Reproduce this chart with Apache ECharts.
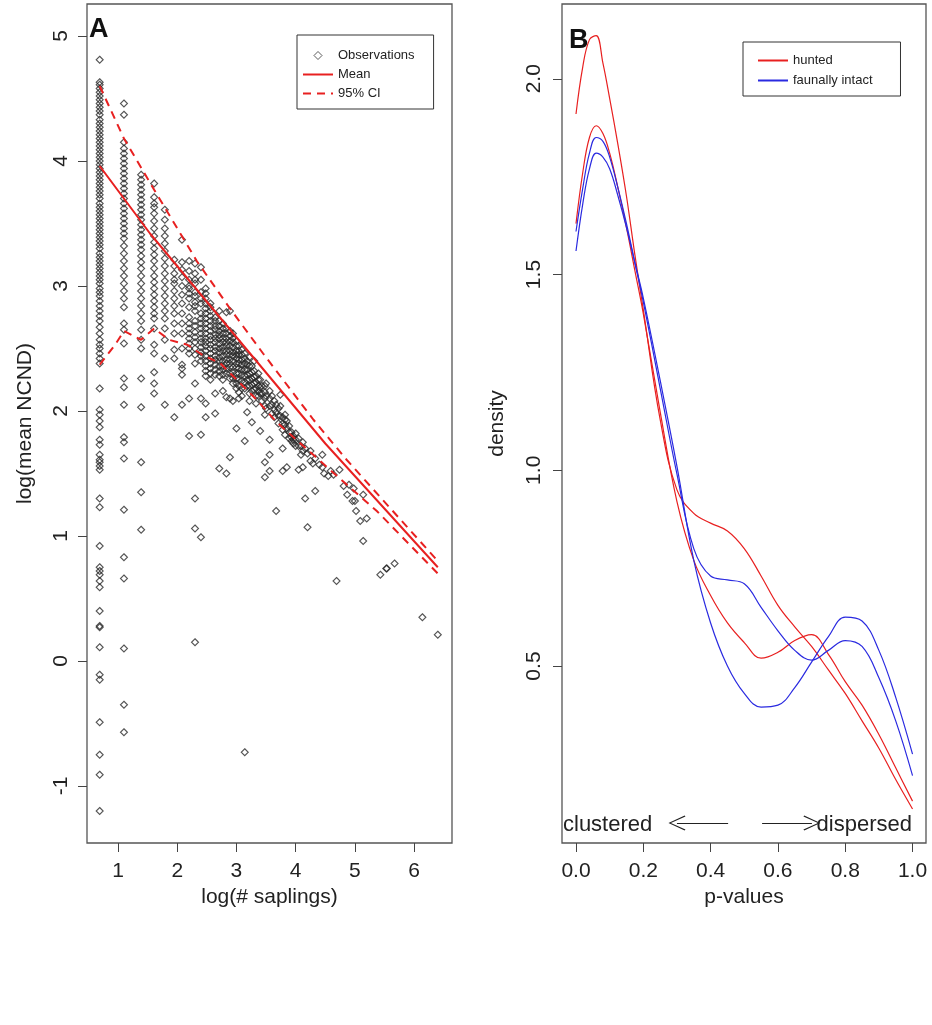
<!DOCTYPE html>
<html>
<head>
<meta charset="utf-8">
<script src="https://cdn.jsdelivr.net/npm/echarts@6/dist/echarts.min.js"></script>
<style>
  html, body { margin: 0; padding: 0; background: #fff; }
  #chart { width: 932px; height: 1025px; }
</style>
</head>
<body>
<div id="chart"></div>
<script>
// panel A: observations, one column per sapling count (x = log(# saplings))
const colX = [0.69, 1.10, 1.39, 1.61, 1.79, 1.95, 2.08, 2.20, 2.30, 2.40, 2.48, 2.56, 2.64, 2.71, 2.77, 2.83,
  2.89, 2.94, 3.00, 3.04, 3.09, 3.14, 3.18, 3.22, 3.26, 3.30, 3.33, 3.37, 3.40, 3.43, 3.48, 3.50,
  3.56, 3.60, 3.64, 3.67, 3.71, 3.74, 3.78, 3.82, 3.85, 3.89, 3.93, 3.96, 4.00, 4.05, 4.09, 4.12,
  4.16, 4.20, 4.25, 4.29, 4.33, 4.40, 4.45, 4.48, 4.55, 4.59, 4.64, 4.69, 4.74, 4.81, 4.87, 4.90,
  4.96, 4.98, 5.00, 5.02, 5.09, 5.14, 5.20, 5.43, 5.53, 5.54, 5.67, 6.14, 6.40];
const colY = [
  [4.81, 4.63, 4.61, 4.58, 4.55, 4.52, 4.49, 4.46, 4.43, 4.40, 4.37, 4.33, 4.30, 4.27, 4.24, 4.21, 4.18,
   4.15, 4.12, 4.09, 4.06, 4.03, 4.00, 3.97, 3.94, 3.91, 3.88, 3.85, 3.82, 3.79, 3.76, 3.73, 3.70, 3.66,
   3.63, 3.60, 3.57, 3.54, 3.51, 3.48, 3.45, 3.42, 3.39, 3.36, 3.33, 3.30, 3.26, 3.23, 3.20, 3.17, 3.14,
   3.11, 3.08, 3.05, 3.02, 2.98, 2.95, 2.92, 2.88, 2.84, 2.80, 2.76, 2.72, 2.67, 2.62, 2.57, 2.53, 2.50,
   2.46, 2.42, 2.38, 2.18, 2.01, 1.97, 1.92, 1.87, 1.77, 1.73, 1.65, 1.61, 1.59, 1.56, 1.53, 1.30, 1.23,
   0.92, 0.75, 0.72, 0.69, 0.64, 0.59, 0.40, 0.28, 0.27, 0.11, -0.11, -0.15, -0.49, -0.75, -0.91, -1.20],
  [4.46, 4.37, 4.15, 4.10, 4.06, 4.02, 3.98, 3.94, 3.90, 3.86, 3.82, 3.78, 3.74, 3.70, 3.66, 3.62, 3.58,
   3.54, 3.50, 3.46, 3.42, 3.38, 3.32, 3.26, 3.20, 3.14, 3.08, 3.02, 2.96, 2.90, 2.83, 2.70, 2.65, 2.54,
   2.26, 2.19, 2.05, 1.79, 1.75, 1.62, 1.21, 0.83, 0.66, 0.10, -0.35, -0.57],
  [3.89, 3.85, 3.81, 3.77, 3.73, 3.69, 3.65, 3.61, 3.57, 3.53, 3.49, 3.45, 3.41, 3.37, 3.33, 3.29, 3.24,
   3.19, 3.14, 3.08, 3.02, 2.96, 2.90, 2.84, 2.78, 2.72, 2.65, 2.57, 2.50, 2.26, 2.03, 1.59, 1.35, 1.05],
  [3.82, 3.71, 3.66, 3.63, 3.58, 3.52, 3.46, 3.40, 3.35, 3.30, 3.25, 3.20, 3.14, 3.08, 3.03, 2.98, 2.93,
   2.88, 2.83, 2.78, 2.74, 2.66, 2.53, 2.46, 2.31, 2.22, 2.14],
  [3.61, 3.53, 3.46, 3.40, 3.34, 3.28, 3.22, 3.16, 3.10, 3.04, 2.98, 2.92, 2.86, 2.80, 2.74, 2.66, 2.57,
   2.42, 2.05],
  [3.21, 3.16, 3.10, 3.05, 3.02, 2.96, 2.90, 2.84, 2.78, 2.70, 2.62, 2.49, 2.42, 1.95],
  [3.37, 3.19, 3.13, 3.07, 3.00, 2.93, 2.86, 2.78, 2.70, 2.62, 2.50, 2.37, 2.34, 2.29, 2.05],
  [3.20, 3.12, 3.05, 3.00, 2.98, 2.94, 2.90, 2.83, 2.75, 2.70, 2.66, 2.62, 2.58, 2.54, 2.50, 2.46, 2.10, 1.80],
  [3.18, 3.10, 3.05, 3.02, 2.95, 2.92, 2.87, 2.84, 2.80, 2.72, 2.68, 2.63, 2.59, 2.55, 2.50, 2.45, 2.38,
   2.22, 1.30, 1.06, 0.15],
  [3.15, 3.05, 2.95, 2.90, 2.86, 2.78, 2.74, 2.70, 2.66, 2.62, 2.58, 2.55, 2.51, 2.47, 2.44, 2.40, 2.10,
   1.81, 0.99],
  [2.98, 2.94, 2.90, 2.86, 2.82, 2.78, 2.74, 2.70, 2.66, 2.62, 2.58, 2.55, 2.52, 2.48, 2.44, 2.40, 2.36,
   2.32, 2.28, 2.06, 1.95],
  [2.86, 2.83, 2.80, 2.76, 2.72, 2.68, 2.64, 2.60, 2.57, 2.53, 2.50, 2.46, 2.42, 2.38, 2.34, 2.30, 2.25],
  [2.75, 2.72, 2.68, 2.65, 2.61, 2.58, 2.55, 2.51, 2.48, 2.44, 2.41, 2.37, 2.33, 2.29, 2.14, 1.98],
  [2.80, 2.72, 2.68, 2.64, 2.61, 2.58, 2.54, 2.50, 2.47, 2.43, 2.40, 2.36, 2.32, 2.28, 1.54],
  [2.70, 2.66, 2.62, 2.58, 2.55, 2.51, 2.48, 2.44, 2.40, 2.36, 2.33, 2.29, 2.25, 2.16],
  [2.79, 2.66, 2.62, 2.58, 2.55, 2.52, 2.48, 2.45, 2.41, 2.38, 2.34, 2.30, 2.11, 1.50],
  [2.80, 2.64, 2.60, 2.56, 2.52, 2.48, 2.45, 2.41, 2.38, 2.35, 2.30, 2.26, 2.10, 1.63],
  [2.62, 2.58, 2.55, 2.51, 2.47, 2.44, 2.40, 2.35, 2.31, 2.26, 2.22, 2.08],
  [2.56, 2.52, 2.48, 2.45, 2.42, 2.38, 2.35, 2.30, 2.26, 2.22, 2.18, 1.86],
  [2.52, 2.48, 2.45, 2.41, 2.38, 2.34, 2.30, 2.25, 2.20, 2.15, 2.10],
  [2.49, 2.45, 2.41, 2.37, 2.33, 2.29, 2.24, 2.18, 2.12],
  [2.46, 2.42, 2.38, 2.33, 2.28, 2.23, 2.18, 1.76, -0.73],
  [2.40, 2.37, 2.33, 2.29, 2.25, 2.20, 1.99],
  [2.43, 2.36, 2.30, 2.25, 2.20, 2.14, 2.08],
  [2.36, 2.31, 2.26, 2.21, 2.16, 1.91],
  [2.40, 2.32, 2.27, 2.22, 2.17],
  [2.28, 2.23, 2.18, 2.12, 2.06],
  [2.30, 2.25, 2.20, 2.16, 2.12],
  [2.25, 2.19, 2.14, 1.84],
  [2.20, 2.14, 2.08],
  [2.20, 2.15, 2.10, 2.04, 1.97, 1.59, 1.47],
  [2.22, 2.12, 2.02],
  [2.16, 2.10, 2.04, 1.77, 1.65, 1.52],
  [2.12, 2.05, 1.98],
  [2.08, 2.01, 1.95],
  [2.05, 1.99, 1.20],
  [2.02, 1.96, 1.90],
  [2.13, 2.04, 1.96],
  [1.95, 1.90, 1.85, 1.70, 1.52],
  [1.97, 1.93, 1.89, 1.81],
  [1.92, 1.86, 1.55],
  [1.88, 1.83, 1.78],
  [1.83, 1.79, 1.76],
  [1.80, 1.77, 1.74],
  [1.82, 1.77, 1.72],
  [1.78, 1.72, 1.53],
  [1.72, 1.65],
  [1.75, 1.68, 1.55],
  [1.70, 1.30],
  [1.66, 1.07],
  [1.68, 1.60],
  [1.58],
  [1.62, 1.36],
  [1.57],
  [1.65, 1.55],
  [1.50],
  [1.48],
  [1.52],
  [1.49],
  [0.64],
  [1.53],
  [1.40],
  [1.33],
  [1.41],
  [1.28],
  [1.38],
  [1.28],
  [1.20],
  [1.12],
  [1.33, 0.96],
  [1.14],
  [0.69],
  [0.74],
  [0.74],
  [0.78],
  [0.35],
  [0.21]
];

// panel A: fitted mean and 95% CI
const meanX = [0.69, 1.54, 2.93, 4.50, 6.40];
const meanY = [3.96, 3.42, 2.63, 1.74, 0.75];
const ciUpX = [0.69, 1.10, 1.61, 2.33, 2.89, 3.45, 4.30, 4.86, 6.40];
const ciUpY = [4.60, 4.18, 3.77, 3.20, 2.82, 2.46, 1.93, 1.61, 0.80];
const ciLoX = [0.69, 0.95, 1.10, 1.39, 1.61, 1.86, 2.17, 2.42, 2.73, 3.34, 3.68, 4.58, 5.37, 6.40];
const ciLoY = [2.37, 2.53, 2.64, 2.57, 2.66, 2.57, 2.53, 2.45, 2.38, 2.09, 1.91, 1.53, 1.20, 0.70];

// panel B: density of p-values
const pVals = [0, 0.02, 0.04, 0.06, 0.08, 0.10, 0.125, 0.15, 0.175, 0.20, 0.25, 0.30, 0.35, 0.40,
  0.45, 0.50, 0.55, 0.60, 0.65, 0.70, 0.75, 0.80, 0.85, 0.90, 0.95, 1.00];
const hunted1 = [1.91, 2.03, 2.10, 2.11, 2.04, 1.95, 1.83, 1.70, 1.55, 1.41, 1.13, 0.95, 0.89, 0.865,
  0.845, 0.80, 0.73, 0.655, 0.60, 0.55, 0.49, 0.43, 0.36, 0.29, 0.21, 0.135];
const hunted2 = [1.63, 1.76, 1.85, 1.88, 1.86, 1.81, 1.72, 1.62, 1.51, 1.40, 1.15, 0.92, 0.77, 0.68,
  0.61, 0.56, 0.52, 0.535, 0.565, 0.58, 0.53, 0.46, 0.40, 0.325, 0.24, 0.155];
const intact1 = [1.61, 1.72, 1.81, 1.85, 1.84, 1.80, 1.72, 1.63, 1.53, 1.43, 1.21, 0.99, 0.80, 0.73,
  0.72, 0.71, 0.65, 0.59, 0.54, 0.515, 0.54, 0.565, 0.55, 0.47, 0.36, 0.22];
const intact2 = [1.56, 1.68, 1.77, 1.81, 1.80, 1.77, 1.70, 1.62, 1.53, 1.44, 1.23, 1.01, 0.77, 0.61,
  0.50, 0.43, 0.395, 0.40, 0.445, 0.51, 0.575, 0.625, 0.615, 0.54, 0.42, 0.275];

const ticksA_x = [1, 2, 3, 4, 5, 6];
const ticksA_y = [-1, 0, 1, 2, 3, 4, 5];
const ticksB_x = [0, 0.2, 0.4, 0.6, 0.8, 1.0];
const ticksB_y = [0.5, 1.0, 1.5, 2.0];

const zip = (xs, ys) => xs.map((x, i) => [x, ys[i]]);
const obs = [];
colX.forEach((x, i) => colY[i].forEach(y => obs.push([x, y])));

const FONT = "'Liberation Sans', Arial, sans-serif";
const RED = "#e82020";
const BLUE = "#2a2ae0";
const chevron = "path://M0,0 L8,16 L7,16.8 L0,2.4 L-7,16.8 L-8,16 Z";
// small diamond centred in a 30x8 legend slot
const legendDiamond = "path://M0,0 M30,8 M15,0 L19,4 L15,8 L11,4 Z";

const chart = echarts.init(document.getElementById("chart"), null, { renderer: "canvas" });

const axisCommon = (ticks, fmt, rot, margin) => ({
  type: "value",
  axisLine: { show: false, onZero: false },
  splitLine: { show: false },
  axisTick: { show: true, inside: false, length: 9, customValues: ticks, lineStyle: { color: "#444" } },
  axisLabel: {
    customValues: ticks, fontSize: 21, color: "#222", fontFamily: FONT,
    formatter: fmt, rotate: rot, margin: margin
  },
  nameLocation: "middle",
  nameTextStyle: { fontSize: 21, color: "#222", fontFamily: FONT }
});

const legendText = { fontSize: 13, color: "#222", fontFamily: FONT };

const option = {
  animation: false,
  backgroundColor: "#fff",
  grid: [
    { left: 87, top: 4, width: 365, height: 839, show: true, borderColor: "#555", borderWidth: 1.3, backgroundColor: "transparent" },
    { left: 562, top: 4, width: 364, height: 839, show: true, borderColor: "#555", borderWidth: 1.3, backgroundColor: "transparent" }
  ],
  xAxis: [
    Object.assign(axisCommon(ticksA_x, v => String(v), 0, 18), {
      gridIndex: 0, min: 0.476, max: 6.64, name: "log(# saplings)", nameGap: 43
    }),
    Object.assign(axisCommon(ticksB_x, v => v.toFixed(1), 0, 18), {
      gridIndex: 1, min: -0.0416, max: 1.040, name: "p-values", nameGap: 43
    })
  ],
  yAxis: [
    Object.assign(axisCommon(ticksA_y, v => String(v), 90, 15), {
      gridIndex: 0, min: -1.456, max: 5.256, name: "log(mean NCND)", nameGap: 51
    }),
    Object.assign(axisCommon(ticksB_y, v => v.toFixed(1), 90, 17), {
      gridIndex: 1, min: 0.048, max: 2.191, name: "density", nameGap: 54
    })
  ],
  legend: [
    {
      data: [
        { name: "Observations", icon: legendDiamond, itemStyle: { color: "rgba(0,0,0,0)", borderColor: "#333", borderWidth: 1 } },
        { name: "Mean", itemStyle: { opacity: 0 } },
        { name: "95% CI", itemStyle: { opacity: 0 } }
      ],
      orient: "vertical", left: 297, top: 35,
      borderColor: "#333", borderWidth: 1, padding: [14, 19, 9, 5],
      itemWidth: 30, itemHeight: 8, itemGap: 6,
      textStyle: legendText, selectedMode: false
    },
    {
      data: [
        { name: "hunted", itemStyle: { opacity: 0 } },
        { name: "faunally intact", itemStyle: { opacity: 0 } }
      ],
      orient: "vertical", left: 743, top: 42,
      borderColor: "#333", borderWidth: 1, padding: [12, 28, 9, 14],
      itemWidth: 30, itemHeight: 8, itemGap: 7,
      textStyle: legendText, selectedMode: false
    }
  ],
  graphic: [
    { type: "text", left: 89, top: 16, style: { text: "A", font: "bold 27px " + FONT, fill: "#111" } },
    { type: "text", left: 569, top: 27, style: { text: "B", font: "bold 27px " + FONT, fill: "#111" } },
    { type: "text", x: 563, y: 825, style: { text: "clustered", font: "22px " + FONT, fill: "#222", verticalAlign: "middle" } },
    { type: "text", x: 912, y: 825, style: { text: "dispersed", font: "22px " + FONT, fill: "#222", verticalAlign: "middle", align: "right" } }
  ],
  series: [
    {
      name: "Observations", type: "scatter", xAxisIndex: 0, yAxisIndex: 0,
      data: obs, symbol: "diamond", symbolSize: 7, z: 2,
      itemStyle: { color: "rgba(0,0,0,0)", borderColor: "#2a2a2a", borderWidth: 1.1 }
    },
    {
      name: "Mean", type: "line", xAxisIndex: 0, yAxisIndex: 0, data: zip(meanX, meanY),
      symbol: "none", z: 3, lineStyle: { color: RED, width: 2 }, itemStyle: { color: RED }
    },
    {
      name: "95% CI", type: "line", xAxisIndex: 0, yAxisIndex: 0, data: zip(ciUpX, ciUpY),
      symbol: "none", z: 3, lineStyle: { color: RED, width: 2, type: [8, 6] }, itemStyle: { color: RED }
    },
    {
      name: "95% CI", type: "line", xAxisIndex: 0, yAxisIndex: 0, data: zip(ciLoX, ciLoY),
      symbol: "none", z: 3, lineStyle: { color: RED, width: 2, type: [8, 6] }, itemStyle: { color: RED }
    },
    {
      name: "hunted", type: "line", xAxisIndex: 1, yAxisIndex: 1, data: zip(pVals, hunted1),
      symbol: "none", smooth: 0.4, lineStyle: { color: RED, width: 1.2 }, itemStyle: { color: RED }
    },
    {
      name: "hunted", type: "line", xAxisIndex: 1, yAxisIndex: 1, data: zip(pVals, hunted2),
      symbol: "none", smooth: 0.4, lineStyle: { color: RED, width: 1.2 }, itemStyle: { color: RED }
    },
    {
      name: "faunally intact", type: "line", xAxisIndex: 1, yAxisIndex: 1, data: zip(pVals, intact1),
      symbol: "none", smooth: 0.4, lineStyle: { color: BLUE, width: 1.2 }, itemStyle: { color: BLUE }
    },
    {
      name: "faunally intact", type: "line", xAxisIndex: 1, yAxisIndex: 1, data: zip(pVals, intact2),
      symbol: "none", smooth: 0.4, lineStyle: { color: BLUE, width: 1.2 }, itemStyle: { color: BLUE }
    },
    {
      // clustered / dispersed arrows
      type: "line", xAxisIndex: 1, yAxisIndex: 1, data: [], silent: true,
      markLine: {
        silent: true, animation: false,
        symbol: ["none", chevron], symbolSize: [15, 17],
        label: { show: false },
        lineStyle: { color: "#222", width: 1, type: "solid" },
        data: [
          [{ coord: [0.452, 0.099] }, { coord: [0.300, 0.099] }],
          [{ coord: [0.553, 0.099] }, { coord: [0.701, 0.099] }]
        ]
      }
    }
  ]
};

chart.setOption(option);
</script>
</body>
</html>
